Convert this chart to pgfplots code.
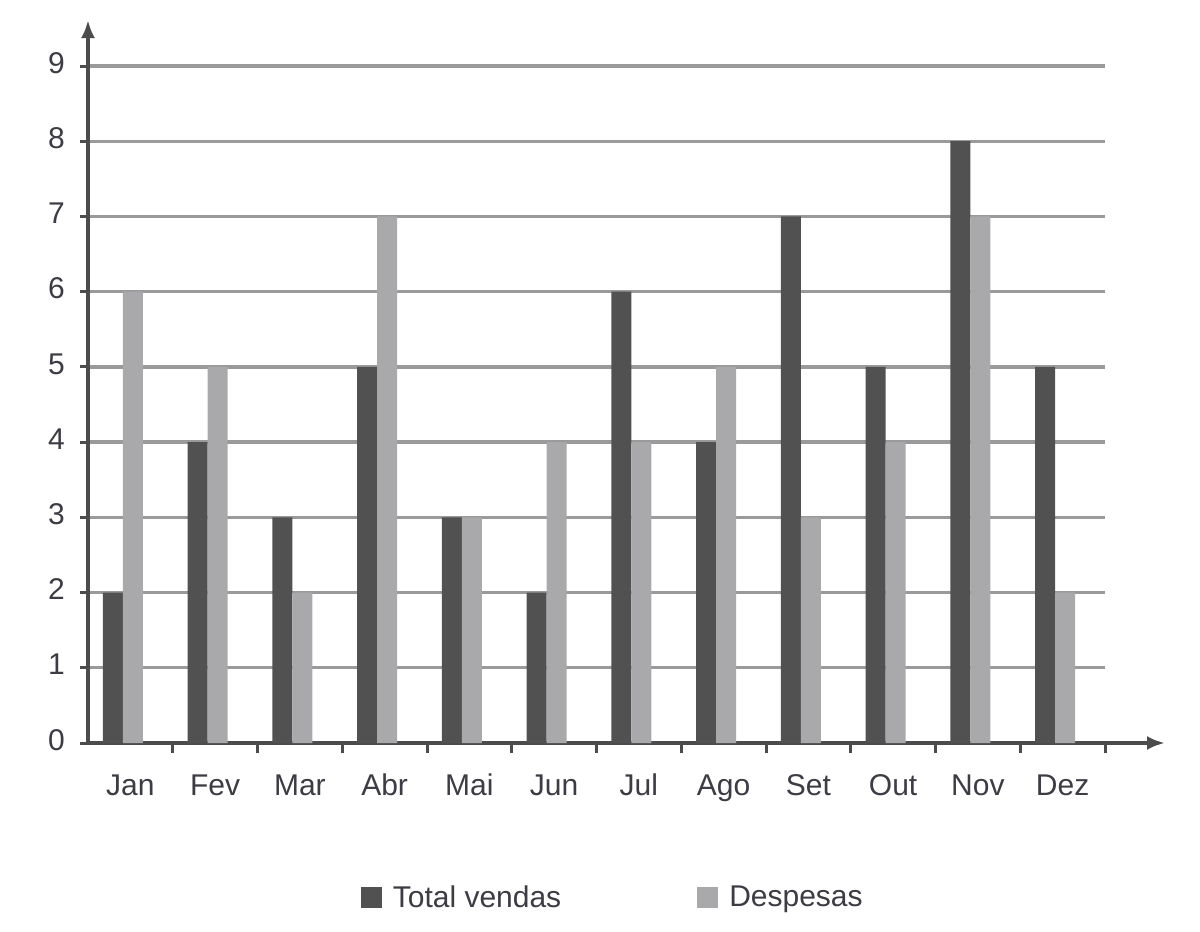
\documentclass[border=0pt]{standalone}
\usepackage{fontspec}
\setmainfont{Liberation Sans}
\usepackage{pgfplots}
\pgfplotsset{compat=1.18}
\usetikzlibrary{arrows.meta}
\definecolor{darkbar}{HTML}{515151}
\definecolor{lightbar}{HTML}{A9A9AB}
\definecolor{gridc}{HTML}{9A9A9A}
\definecolor{axc}{HTML}{4C4C4C}
\definecolor{txt}{HTML}{3C3C44}
\begin{document}
\begin{tikzpicture}
\path[use as bounding box] (-44pt,-94.5pt) rectangle (556pt,371.5pt);
\begin{axis}[
  at={(0,0)}, anchor=south west,
  scale only axis, width=508.5pt, height=338.5pt,
  xmin=-0.5, xmax=11.5, ymin=0, ymax=9,
  axis lines=left,
  axis line style={axc, line width=2.2pt},
  x axis line style={-{Latex[length=9pt,width=7pt]}, shorten >=-30pt},
  y axis line style={-{Latex[length=9pt,width=7pt]}, shorten >=-23pt},
  ytick={0,...,9},
  xtick={0,...,11},
  xticklabels={Jan,Fev,Mar,Abr,Mai,Jun,Jul,Ago,Set,Out,Nov,Dez},
  minor xtick={0.5,1.5,...,11.5},
  major x tick style={draw=none},
  minor x tick style={axc, line width=1.5pt},
  minor tick length=5pt,
  major tick length=4pt,
  y tick style={axc, line width=1.5pt},
  tick align=outside,
  ymajorgrids,
  major grid style={gridc, line width=1.7pt},
  /pgf/number format/assume math mode=true,
  typeset ticklabels with strut,
  ticklabel style={font=\fontsize{15}{18}\selectfont, text=txt},
  yticklabel style={xshift=-4pt},
  xticklabel style={yshift=-6pt},
  legend style={draw=none, at={(0.262,-0.229)}, anchor=west,
    font=\fontsize{15}{18}\selectfont, text=txt,
    /tikz/every even column/.append style={column sep=66pt}},
  legend columns=2,
  legend image code/.code={\fill[#1] (0pt,-5pt) rectangle (10.5pt,5.5pt); \path (14pt,0pt);},
]
\addplot[ybar, fill=darkbar, draw=none, bar width=10pt, bar shift=-8.75pt]
  coordinates {(0,2) (1,4) (2,3) (3,5) (4,3) (5,2) (6,6) (7,4) (8,7) (9,5) (10,8) (11,5)};
\addlegendentry{Total vendas}
\addplot[ybar, fill=lightbar, draw=none, bar width=10pt, bar shift=1.25pt]
  coordinates {(0,6) (1,5) (2,2) (3,7) (4,3) (5,4) (6,4) (7,5) (8,3) (9,4) (10,7) (11,2)};
\addlegendentry{Despesas}
\end{axis}
\end{tikzpicture}
\end{document}
